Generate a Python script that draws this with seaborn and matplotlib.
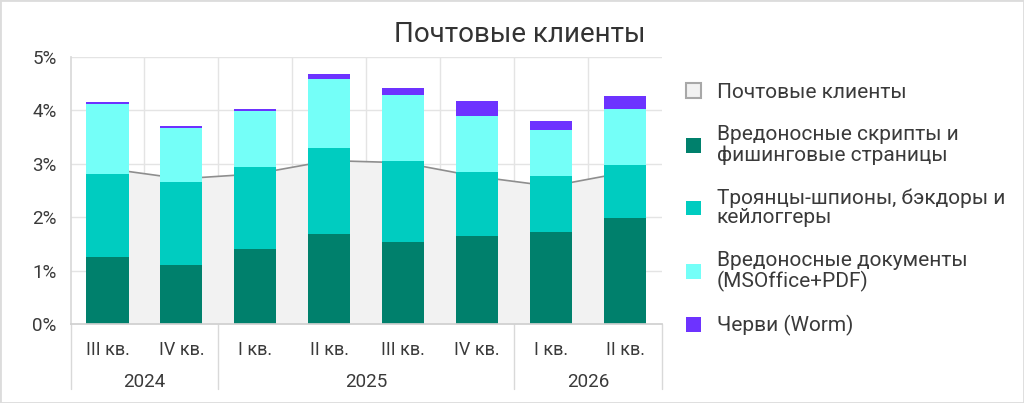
import numpy as np
import pandas as pd
import matplotlib
matplotlib.use("Agg")
import matplotlib.pyplot as plt
from matplotlib.patches import Patch, Rectangle
from matplotlib.transforms import blended_transform_factory
import seaborn as sns

# ---- data ----
quarters = ["III кв.", "IV кв.", "I кв.", "II кв.", "III кв.", "IV кв.", "I кв.", "II кв."]
years = ["2024", "2025", "2026"]
year_counts = [2, 4, 2]
mail_clients = [2.91, 2.72, 2.81, 3.06, 3.02, 2.76, 2.58, 2.84]
scripts = [1.25, 1.11, 1.41, 1.68, 1.54, 1.65, 1.72, 1.99]
trojans = [1.56, 1.55, 1.53, 1.62, 1.51, 1.19, 1.05, 0.99]
documents = [1.31, 1.01, 1.05, 1.29, 1.24, 1.05, 0.86, 1.05]
worms = [0.03, 0.04, 0.04, 0.09, 0.13, 0.28, 0.17, 0.24]

series_names = ["Вредоносные скрипты и\nфишинговые страницы",
                "Троянцы-шпионы, бэкдоры и\nкейлоггеры",
                "Вредоносные документы\n(MSOffice+PDF)",
                "Черви (Worm)"]
area_name = "Почтовые клиенты"
title = "Почтовые клиенты"

colors = ["#00806C", "#00CCC0", "#74FFF8", "#6D33FF"]
area_fill = "#F2F2F2"
area_line = "#8E8E8E"
grid_c = "#E4E4E4"
text_c = "#3A3A3A"

FONT = ["Roboto", "DejaVu Sans"]

sns.set_theme(style="white")
plt.rcParams["font.family"] = FONT

n = len(quarters)
pos = np.arange(n)
df = pd.DataFrame({
    "pos": pos,
    "s1": scripts,
    "s2": trojans,
    "s3": documents,
    "s4": worms,
    "area": mail_clients,
})
df["c1"] = df["s1"]
df["c2"] = df["c1"] + df["s2"]
df["c3"] = df["c2"] + df["s3"]
df["c4"] = df["c3"] + df["s4"]

fig = plt.figure(figsize=(10.24, 4.03), dpi=100)
ax = fig.add_axes([70.5 / 1024, 1 - 324 / 403, (662 - 70.5) / 1024, (324 - 57) / 403])

# area (behind bars, above grid)
ax.fill_between(df["pos"], 0, df["area"], color=area_fill, zorder=1, linewidth=0)
sns.lineplot(data=df, x="pos", y="area", color=area_line, linewidth=1.2, ax=ax, zorder=1.5)

# stacked bars via overlaid cumulative totals
for col, c in zip(["c4", "c3", "c2", "c1"], colors[::-1]):
    sns.barplot(data=df, x="pos", y=col, color=c, width=0.57, ax=ax,
                native_scale=True, saturation=1, zorder=3, linewidth=0)

ax.set_xlim(-0.5, n - 0.5)
ax.set_ylim(0, 5)
ax.set_xlabel("")
ax.set_ylabel("")

# grid
for y in range(1, 6):
    ax.axhline(y, color=grid_c, lw=1, zorder=0)
for x in np.arange(0.5, n - 0.5, 1):
    ax.axvline(x, ymin=0, ymax=1, color=grid_c, lw=1, zorder=0)

ax.set_yticks(range(0, 6))
ax.set_yticklabels([f"{v}%" for v in range(0, 6)], fontsize=13.5, color=text_c)
ax.set_xticks(pos)
ax.set_xticklabels(quarters, fontsize=13, color=text_c)
ax.tick_params(axis="y", length=7, width=1, color="#D6D6D6", pad=3)
ax.tick_params(axis="x", length=5, width=1, color="#D6D6D6", pad=7)

for s in ["top", "right"]:
    ax.spines[s].set_visible(False)
ax.spines["left"].set_color("#D9D9D9")
ax.spines["bottom"].set_color("#D0D0D0")
ax.spines["bottom"].set_zorder(4)

# year group axis
trans = blended_transform_factory(ax.transData, ax.transAxes)
edges = np.concatenate([[0], np.cumsum(year_counts)]) - 0.5
sep_bottom = -(389 - 324) / 267
for e in edges:
    ax.plot([e, e], [0, sep_bottom], transform=trans, color="#D9D9D9", lw=1, clip_on=False, zorder=0)
for yname, a, b in zip(years, edges[:-1], edges[1:]):
    ax.text((a + b) / 2, -(382 - 324) / 267, yname, transform=trans, ha="center", va="center",
            fontsize=13.5, color=text_c)

# title
fig.text(520 / 1024, 1 - 35 / 403, title, ha="center", va="center", fontsize=20, color="#333333")

# legend
handles = [Patch(facecolor=area_fill, edgecolor="#A8A8A8", linewidth=1.5, label=area_name)]
for name, c in zip(series_names, colors):
    handles.append(Patch(facecolor=c, edgecolor="none", label=name))
leg = fig.legend(handles=handles, loc="upper left", bbox_to_anchor=(686 / 1024, 1 - 83 / 403),
                 frameon=False, fontsize=15, handlelength=0.72, handleheight=0.72,
                 handletextpad=0.75, labelspacing=1.12, borderpad=0, borderaxespad=0)
for t in leg.get_texts():
    t.set_color(text_c)
    t.set_linespacing(1.06)

# figure border
fig.patches.append(Rectangle((0, 0), 1, 1, transform=fig.transFigure, fill=False,
                             edgecolor="#DCDCDC", linewidth=2, zorder=10))

fig.savefig("out.png", dpi=100)
